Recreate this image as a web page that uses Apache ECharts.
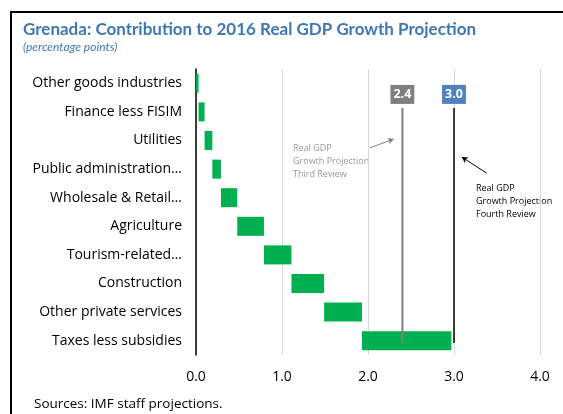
<!DOCTYPE html>
<html>
<head>
<meta charset="utf-8">
<style>
  html, body { margin: 0; padding: 0; background: #fff; }
  #chart { width: 563px; height: 414px; }
</style>
<script src="https://cdn.jsdelivr.net/npm/echarts@6/dist/echarts.min.js"></script>
</head>
<body>
<div id="chart"></div>
<script>
// Sector contributions to 2016 real GDP growth (percentage points), top to bottom
const categories = [
  'Other goods industries',
  'Finance less FISIM',
  'Utilities',
  'Public administration…',
  'Wholesale & Retail…',
  'Agriculture',
  'Tourism-related…',
  'Construction',
  'Other private services',
  'Taxes less subsidies'
];
const contributions = [0.03, 0.07, 0.09, 0.10, 0.19, 0.31, 0.32, 0.38, 0.44, 1.04];

// Headline growth projections from the two programme reviews
const projectionValues = [2.4, 3.0];
const projectionNames = ['Third Review', 'Fourth Review'];

const xTicks = [0, 1, 2, 3, 4];

// Waterfall: invisible base = running total of preceding sectors
const bases = [];
let running = 0;
contributions.forEach(v => { bases.push(+running.toFixed(4)); running += v; });

const FONT = '"Open Sans", sans-serif';
const TITLE_FONT = 'Lato, "Open Sans", sans-serif';
const chart = echarts.init(document.getElementById('chart'), null, { renderer: 'canvas' });

const rows = categories.length;
const lineTop = 1.36, lineBottom = 9.58;   // vertical extent of the projection lines in row units
const projColors = ['#808080', '#000000'];
const tagColors = ['#7f7f7f', '#4f81bd'];

const projectionSeries = projectionValues.map((v, i) => ({
  type: 'line',
  xAxisIndex: 0,
  yAxisIndex: 1,
  symbol: 'none',
  silent: true,
  z: 5,
  lineStyle: { color: projColors[i], width: i === 0 ? 2 : 1.5 },
  data: [[v, lineTop], [v, lineBottom]]
}));

// Value tags sitting above each projection line
const tagSeries = {
  type: 'scatter',
  xAxisIndex: 0,
  yAxisIndex: 1,
  symbolSize: 0,
  silent: true,
  z: 6,
  itemStyle: { opacity: 1 },
  data: projectionValues.map((v, i) => ({
    value: [v, lineTop],
    label: {
      show: true,
      position: 'top',
      distance: 4,
      formatter: v.toFixed(1),
      color: '#fff',
      fontFamily: FONT,
      fontWeight: 'bold',
      fontSize: 12.5,
      lineHeight: 15,
      backgroundColor: tagColors[i],
      padding: [2, 3, 2, 3]
    }
  }))
};

chart.setOption({
  animation: false,
  grid: { left: 196, right: 23, top: 69, bottom: 59 },
  xAxis: {
    type: 'value',
    min: xTicks[0],
    max: xTicks[xTicks.length - 1],
    interval: 1,
    axisLine: { show: false },
    axisTick: { show: false },
    splitLine: { show: true, lineStyle: { color: '#d9d9d9', width: 1 } },
    axisLabel: {
      margin: 15,
      color: '#000',
      fontFamily: FONT,
      fontSize: 14,
      formatter: v => v.toFixed(1)
    }
  },
  yAxis: [
    {
      type: 'category',
      data: categories,
      inverse: true,
      axisTick: { show: false },
      axisLine: { show: true, onZero: false, lineStyle: { color: '#000', width: 1.5 } },
      axisLabel: { margin: 14, color: '#000', fontFamily: FONT, fontSize: 14 }
    },
    {
      type: 'value',
      min: 0,
      max: rows,
      inverse: true,
      show: false
    }
  ],
  series: [
    {
      type: 'bar',
      stack: 'wf',
      silent: true,
      itemStyle: { color: 'transparent' },
      data: bases,
      barWidth: 19
    },
    {
      type: 'bar',
      stack: 'wf',
      itemStyle: { color: '#00b050' },
      data: contributions,
      barWidth: 19
    },
    ...projectionSeries,
    tagSeries,
    {
      // annotation arrows pointing at the projection lines
      type: 'line',
      xAxisIndex: 0,
      yAxisIndex: 1,
      data: [],
      markLine: {
        silent: true,
        symbol: ['none', 'arrow'],
        symbolSize: [5, 6],
        label: { show: false },
        data: [
          [
            { coord: [2.02, 2.76], lineStyle: { color: '#808080', width: 1, type: 'solid' } },
            { coord: [2.30, 2.45] }
          ],
          [
            { coord: [3.38, 3.64], lineStyle: { color: '#000', width: 1, type: 'solid' } },
            { coord: [3.09, 3.08] }
          ]
        ]
      }
    }
  ],
  graphic: [
    {
      type: 'rect',
      shape: { x: 11, y: 12, width: 700, height: 600 },
      style: { fill: 'none', stroke: '#000', lineWidth: 2 },
      silent: true
    },
    {
      type: 'text', left: 23, top: 21,
      style: {
        text: 'Grenada: Contribution to 2016 Real GDP Growth Projection',
        fill: '#3e78b2', font: 'bold 17px ' + TITLE_FONT
      }
    },
    {
      type: 'text', left: 23, top: 41,
      style: { text: '(percentage points)', fill: '#3e78b2', font: 'italic 12px ' + TITLE_FONT }
    },
    {
      type: 'text', left: 293, top: 142,
      style: {
        text: 'Real GDP\nGrowth Projection\n' + projectionNames[0],
        fill: '#999999', font: '9px ' + FONT, lineHeight: 13
      }
    },
    {
      type: 'text', left: 476, top: 182,
      style: {
        text: 'Real GDP\nGrowth Projection\n' + projectionNames[1],
        fill: '#000', font: '9px ' + FONT, lineHeight: 13
      }
    },
    {
      type: 'text', left: 34, top: 397,
      style: { text: 'Sources: IMF staff projections.', fill: '#000', font: '13.5px ' + FONT }
    }
  ]
});
</script>
</body>
</html>
